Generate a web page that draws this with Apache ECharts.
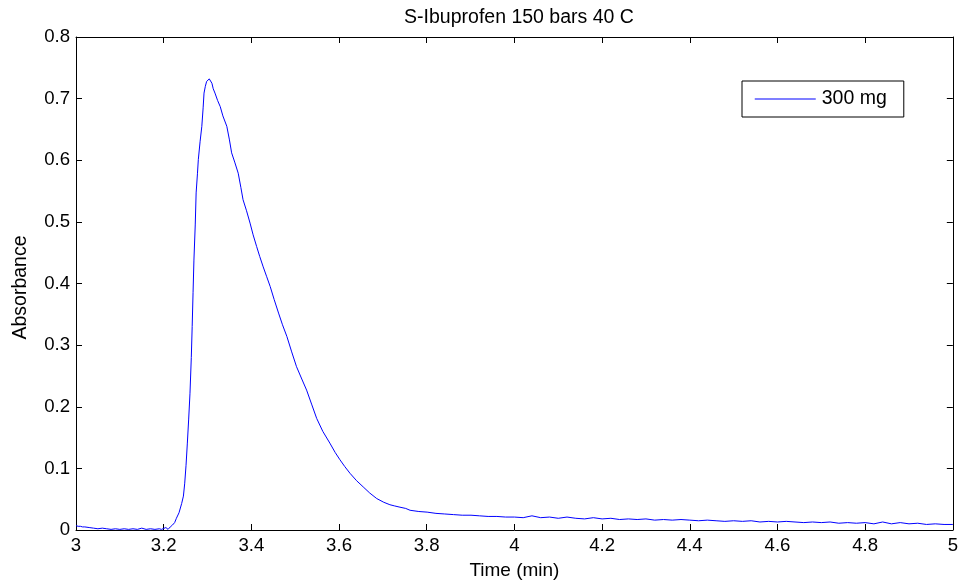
<!DOCTYPE html>
<html>
<head>
<meta charset="utf-8">
<script src="https://cdn.jsdelivr.net/npm/echarts@6/dist/echarts.min.js"></script>
<style>html,body{margin:0;padding:0;background:#fff}#c{width:961px;height:588px}</style>
</head>
<body>
<div id="c"></div>
<script>
const chartTitle = 'S-Ibuprofen 150 bars 40 C';
const seriesName = '300 mg';
const xTicks = [3, 3.2, 3.4, 3.6, 3.8, 4, 4.2, 4.4, 4.6, 4.8, 5];
const yTicks = [0, 0.1, 0.2, 0.3, 0.4, 0.5, 0.6, 0.7, 0.8];
const time = [
 3.000,3.005,3.010,3.015,3.020,3.030,3.040,3.050,3.060,3.070,3.080,3.090,3.100,3.110,3.120,3.130,3.140,3.150,3.160,3.170,3.180,3.190,3.195,
 3.205,3.210,3.215,3.220,3.225,3.229,3.235,3.241,3.245,3.248,3.251,3.254,3.257,3.260,3.263,3.265,3.267,3.269,3.272,3.274,3.277,3.279,3.283,3.287,3.290,3.292,3.295,3.298,3.301,3.304,3.307,3.310,3.313,3.317,3.323,3.329,3.335,3.344,3.350,3.355,3.362,3.370,3.376,3.381,3.389,3.397,3.404,3.412,3.419,3.427,3.435,3.443,3.452,3.462,3.471,3.481,3.492,3.503,3.515,3.526,3.538,3.549,3.563,3.579,3.591,3.602,3.613,3.625,3.640,3.655,3.670,3.686,3.702,3.716,3.727,3.739,3.752,3.762,3.782,3.801,3.821,3.841,3.861,3.881,3.901,3.920,3.940,3.960,3.980,
 4.00,4.02,4.04,4.06,4.08,4.10,4.12,4.14,4.16,4.18,4.20,4.22,4.24,4.26,4.28,4.30,4.32,4.34,4.36,4.38,4.40,4.42,4.44,4.46,4.48,4.50,4.52,4.54,4.56,4.58,4.60,4.62,4.64,4.66,4.68,4.70,4.72,4.74,4.76,4.78,4.80,4.82,4.84,4.86,4.88,4.90,4.92,4.94,4.96,4.98,5.00
];
const absorbance = [
 0.007,0.006,0.006,0.005,0.005,0.004,0.003,0.002,0.003,0.002,0.001,0.002,0.001,0.002,0.001,0.002,0.001,0.003,0.001,0.002,0.001,0.002,0.001,
 0.004,0.001,0.005,0.008,0.012,0.019,0.028,0.043,0.055,0.076,0.105,0.141,0.180,0.222,0.280,0.330,0.385,0.438,0.495,0.547,0.578,0.601,0.630,0.655,0.685,0.709,0.720,0.728,0.726,0.732,0.730,0.725,0.716,0.709,0.697,0.687,0.672,0.655,0.633,0.612,0.597,0.579,0.556,0.536,0.518,0.498,0.479,0.460,0.444,0.427,0.411,0.395,0.374,0.352,0.333,0.314,0.289,0.265,0.245,0.227,0.203,0.181,0.160,0.141,0.126,0.114,0.103,0.092,0.080,0.070,0.060,0.051,0.045,0.041,0.039,0.037,0.035,0.032,0.030,0.029,0.027,0.026,0.025,0.024,0.024,0.023,0.022,0.022,0.021,
 0.021,0.020,0.023,0.020,0.021,0.019,0.021,0.019,0.018,0.020,0.018,0.019,0.017,0.018,0.017,0.018,0.016,0.017,0.016,0.017,0.016,0.015,0.016,0.015,0.014,0.015,0.014,0.015,0.013,0.014,0.013,0.014,0.013,0.012,0.013,0.012,0.013,0.011,0.012,0.011,0.012,0.010,0.013,0.010,0.012,0.010,0.011,0.009,0.010,0.009,0.009
];
const data = time.map((t, i) => [t, absorbance[i]]);
const font = 'Liberation Sans, Arial, sans-serif';
const fmtX = v => { const r = Math.round(v * 10) / 10; return xTicks.includes(r) ? String(r) : ''; };
const fmtY = v => { const r = Math.round(v * 10) / 10; return yTicks.includes(r) ? String(r) : ''; };
const chart = echarts.init(document.getElementById('c'));
const axisCommon = {
  axisLine: { show: true, onZero: false, lineStyle: { color: '#000', width: 1 } },
  axisTick: { show: true, inside: true, length: 6, lineStyle: { color: '#000' } },
  splitLine: { show: false }
};
chart.setOption({
  animation: false,
  backgroundColor: '#fff',
  title: { text: chartTitle, left: 514, textAlign: 'center', top: 3, textStyle: { fontFamily: font, fontSize: 19.5, fontWeight: 'normal', color: '#000' } },
  grid: { left: 76, right: 8, top: 37, bottom: 58, show: false },
  legend: {
    left: 742, top: 81, orient: 'horizontal',
    backgroundColor: '#fff', borderColor: '#000', borderWidth: 1,
    padding: [8, 17, 8, 12], itemWidth: 61, itemHeight: 16, itemGap: 12,
    itemStyle: { color: 'rgba(0,0,0,0)', borderWidth: 0, opacity: 0 },
    lineStyle: { color: '#5555ff', width: 1.5 },
    textStyle: { fontFamily: font, fontSize: 19.5, color: '#000', padding: [0, 0, 0, 1] },
    data: [seriesName]
  },
  xAxis: [
    Object.assign({}, axisCommon, { type: 'value', min: 3, max: 5, interval: 0.2, position: 'bottom',
      name: 'Time (min)', nameLocation: 'middle', nameGap: 31,
      nameTextStyle: { fontFamily: font, fontSize: 19, color: '#000' },
      axisLabel: { fontFamily: font, fontSize: 18.6, color: '#000', margin: 6, formatter: fmtX } }),
    Object.assign({}, axisCommon, { type: 'value', min: 3, max: 5, interval: 0.2, position: 'top', axisLabel: { show: false } })
  ],
  yAxis: [
    Object.assign({}, axisCommon, { type: 'value', min: 0, max: 0.8, interval: 0.1, position: 'left',
      name: 'Absorbance', nameLocation: 'middle', nameGap: 45, nameRotate: 90,
      nameTextStyle: { fontFamily: font, fontSize: 19.5, color: '#000', padding: [0, 8, 0, 0] },
      axisLabel: { fontFamily: font, fontSize: 18.6, color: '#000', margin: 6, formatter: fmtY } }),
    Object.assign({}, axisCommon, { type: 'value', min: 0, max: 0.8, interval: 0.1, position: 'right', axisLabel: { show: false } })
  ],
  series: [{
    name: seriesName, type: 'line', data: data, xAxisIndex: 0, yAxisIndex: 0,
    showSymbol: false, symbol: 'none', lineStyle: { color: '#0000ff', width: 1 }, itemStyle: { color: '#0000ff' }
  }]
});
</script>
</body>
</html>
